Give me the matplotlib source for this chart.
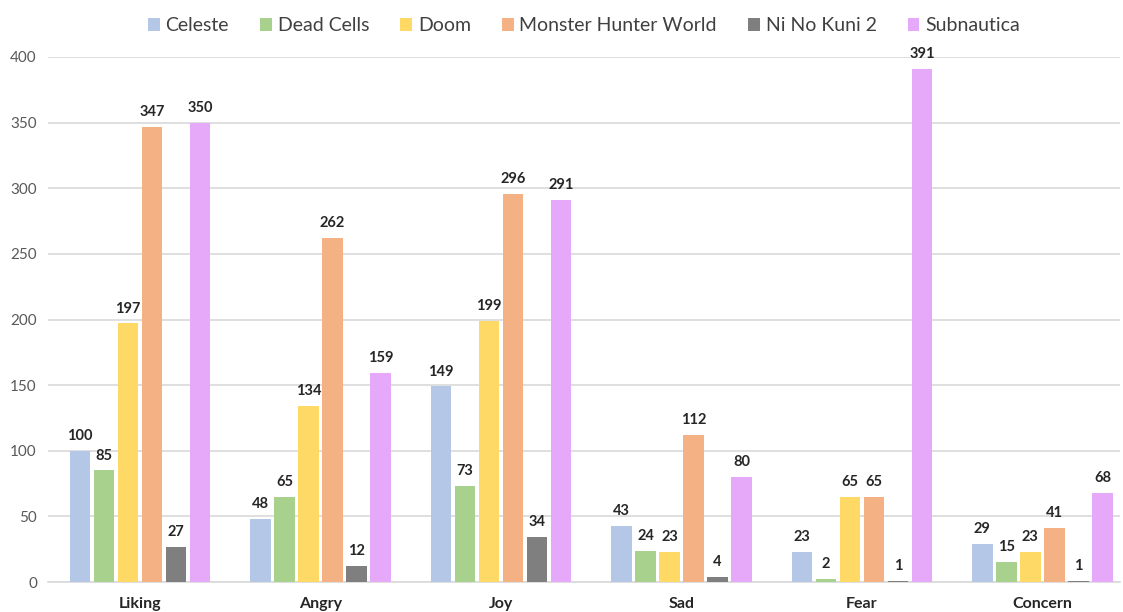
import numpy as np
import matplotlib.pyplot as plt

# ── Data ──────────────────────────────────────────────────────────────────────
categories = ['Liking', 'Angry', 'Joy', 'Sad', 'Fear', 'Concern']
games = ['Celeste', 'Dead Cells', 'Doom', 'Monster Hunter World', 'Ni No Kuni 2', 'Subnautica']

celeste    = [100, 48, 149, 43, 23, 29]
dead_cells = [85, 65, 73, 24, 2, 15]
doom       = [197, 134, 199, 23, 65, 23]
mhw        = [347, 262, 296, 112, 65, 41]
ni_no_kuni = [27, 12, 34, 4, 1, 1]
subnautica = [350, 159, 291, 80, 391, 68]

series = [celeste, dead_cells, doom, mhw, ni_no_kuni, subnautica]
colors = ['#B4C7E7', '#A9D18E', '#FFD966', '#F4B183', '#7F7F7F', '#E6A8F8']

plt.rcParams['font.family'] = ['Lato', 'DejaVu Sans']

fig = plt.figure(figsize=(11.23, 6.12), dpi=100)
ax = fig.add_axes([48 / 1123, 30 / 612, 1072 / 1123, 525 / 612])

x = np.arange(len(categories))
step = 0.133
for i, (vals, col, name) in enumerate(zip(series, colors, games)):
    pos = x + (i - 2.5) * step
    bars = ax.bar(pos, vals, width=step * 0.86, color=col, label=name, zorder=3)
    for b, v in zip(bars, vals):
        ax.text(b.get_x() + b.get_width() / 2, v + 6, str(v), ha='center', va='bottom',
                fontsize=10.5, fontweight='bold', color='#262626')

ax.set_xlim(-0.51, 5.43)
ax.set_ylim(0, 400)
ax.set_yticks(range(0, 401, 50))
ax.yaxis.grid(True, color='#D9D9D9', linewidth=1.2)
ax.set_axisbelow(True)
for s in ['top', 'right', 'left']:
    ax.spines[s].set_visible(False)
ax.spines['bottom'].set_color('#D9D9D9')
ax.spines['bottom'].set_linewidth(1.2)
ax.tick_params(axis='y', length=0, labelsize=11, labelcolor='#595959', pad=8)
ax.tick_params(axis='x', length=0, pad=11)
ax.set_xticks(x)
ax.set_xticklabels(categories, fontsize=11.5, fontweight='bold', color='#262626')

fig.legend(loc='upper center', bbox_to_anchor=(0.52, 1.0), ncol=6, frameon=False,
           fontsize=14, handlelength=0.6, handleheight=0.6, handletextpad=0.3,
           columnspacing=1.6, labelcolor='#404040')

plt.savefig('out.png', dpi=100)
